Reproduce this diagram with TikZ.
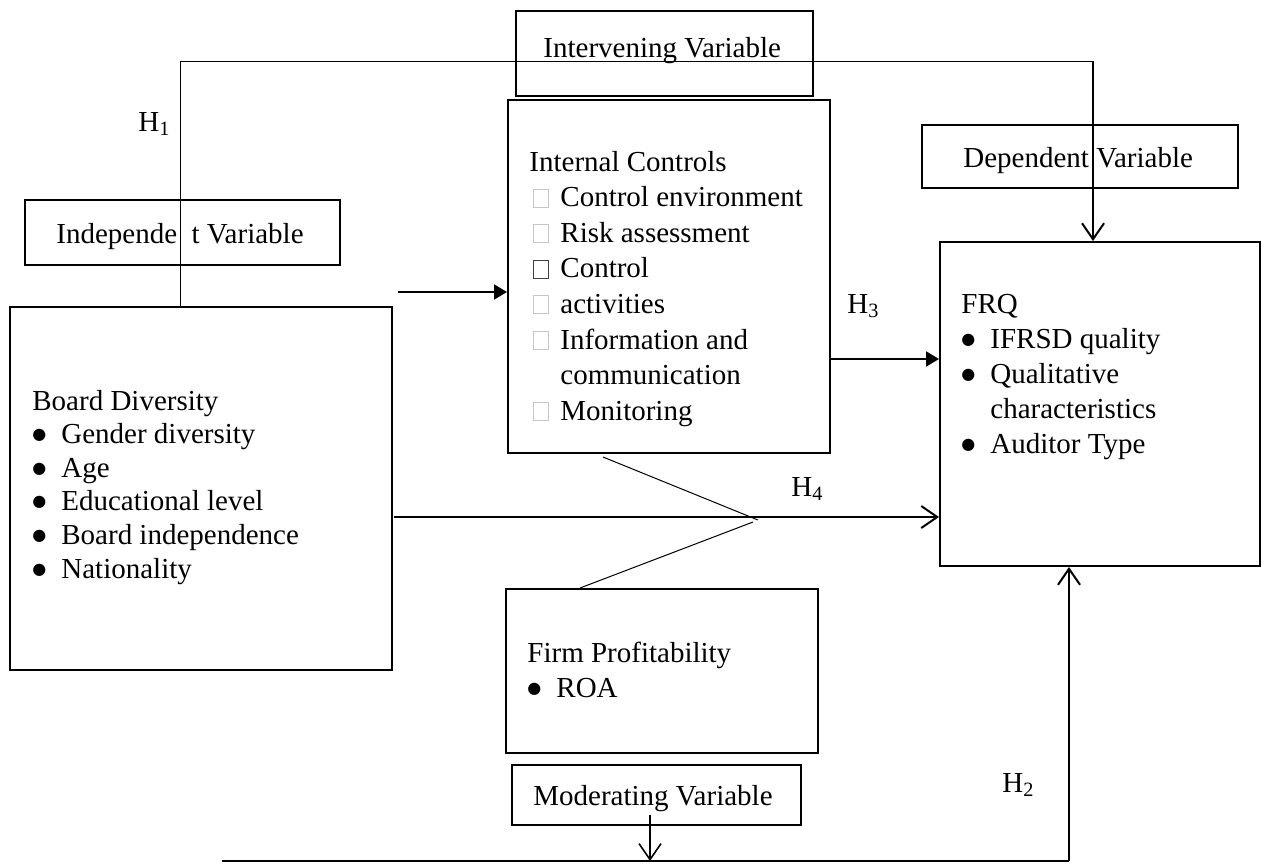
\documentclass[tikz,border=0pt]{standalone}
\usepackage{fontspec}
\setmainfont{Liberation Serif}
\newfontfamily\symfont{DejaVu Sans}
\usetikzlibrary{arrows.meta,fit}

\newcommand{\bul}{\makebox[14.5pt][l]{\raisebox{2pt}{\symfont\fontsize{8}{10}\selectfont ●}}}
\newcommand{\sqbox}[1]{\makebox[15.5pt][l]{\hspace{2pt}{\color{#1}\fboxsep=0pt\fboxrule=0.5pt\fbox{\rule{0pt}{8.5pt}\hspace{7pt}}}}}

\tikzset{
  box/.style={draw, line width=1pt, inner sep=0pt},
  txt/.style={anchor=base west, inner sep=0pt, font=\fontsize{14.5}{17.8}\selectfont},
  thinline/.style={line width=0.5pt},
  openarrow/.style={line width=1pt, -{Straight Barb[length=8pt,width=11pt]}},
  fillarrow/.style={line width=1pt, -{Triangle[length=6.5pt,width=7.5pt]}},
}

\begin{document}
\begin{tikzpicture}[x=0.5pt, y=-0.5pt, line cap=butt]
  \useasboundingbox (0,0) rectangle (1262,863);

  % boxes
  \node[box, fit={(25,200) (340,265)}] (ivbox) {};
  \node[box, fit={(10,307) (392,670)}] (bd) {};
  \node[box, line width=1.3pt, fit={(516,11) (813,96)}] (inbox) {};
  \node[box, fit={(508,100) (830,453)}] (ic) {};
  \node[box, fit={(922,125) (1238,188)}] (dvbox) {};
  \node[box, fit={(940,242) (1260,566)}] (frq) {};
  \node[box, fit={(506,589) (818,753)}] (fp) {};
  \node[box, fit={(512,765) (801,825)}] (mvbox) {};

  % box texts
  \node[txt] (ivlab) at (56,243) {Independe\phantom{n}t Variable};
  \node[txt] (inlab) at (543,57) {Intervening Variable};
  \node[txt] (dvlab) at (963,167) {Dependent Variable};
  \node[txt] (mvlab) at (533,805) {Moderating Variable};

  \node[txt, font=\fontsize{14.5}{16.8}\selectfont] (bdtxt) at (32,410) {%
    \begin{tabular}[t]{@{}l@{}}
      Board Diversity\\
      \bul Gender diversity\\
      \bul Age\\
      \bul Educational level\\
      \bul Board independence\\
      \bul Nationality
    \end{tabular}};

  \node[txt] (ictxt) at (529,171) {%
    \begin{tabular}[t]{@{}l@{}}
      Internal Controls\\
      \sqbox{gray!45}Control environment\\
      \sqbox{gray!45}Risk assessment\\
      \sqbox{black!75}Control\\
      \sqbox{gray!45}activities\\
      \sqbox{gray!45}Information and\\
      \hspace*{15.5pt}communication\\
      \sqbox{gray!45}Monitoring
    \end{tabular}};

  \node[txt, font=\fontsize{14.5}{17.5}\selectfont] (frqtxt) at (961,313) {%
    \begin{tabular}[t]{@{}l@{}}
      FRQ\\
      \bul IFRSD quality\\
      \bul Qualitative\\
      \hspace*{14.5pt}characteristics\\
      \bul Auditor Type
    \end{tabular}};

  \node[txt, font=\fontsize{14.5}{17.5}\selectfont] (fptxt) at (527,662) {%
    \begin{tabular}[t]{@{}l@{}}
      Firm Profitability\\
      \bul ROA
    \end{tabular}};

  % hypothesis labels
  \node[txt] (h1) at (138,131) {H\textsubscript{1}};
  \node[txt] (h3) at (847,313) {H\textsubscript{3}};
  \node[txt] (h4) at (791,496) {H\textsubscript{4}};
  \node[txt] (h2) at (1002,792) {H\textsubscript{2}};

  % coordinates
  \coordinate (tl) at (180,61);
  \coordinate (tr) at (1093,61);
  \coordinate (a1) at (398,292);
  \coordinate (a3) at (830,359);
  \coordinate (a4) at (394,517);
  \coordinate (z1) at (603,457);
  \coordinate (z2) at (758,520);
  \coordinate (z3) at (753,522);
  \coordinate (z4) at (580,589);
  \coordinate (mv) at (650,815);
  \coordinate (bl) at (222,861);
  \coordinate (br) at (1069,861);

  % H1 path over the top
  \draw[thinline] (tl |- bd.north) -- (tl) -- (tr);
  \draw[openarrow] (tr) -- (tr |- frq.north);

  % mediation arrows
  \draw[fillarrow] (a1) -- (a1 -| ic.west);
  \draw[fillarrow] (a3) -- (a3 -| frq.west);

  % direct path and moderator link
  \draw[openarrow] (a4) -- (a4 -| frq.west);
  \draw[thinline] (z1) -- (z2);
  \draw[thinline] (z3) -- (z4 |- fp.north);

  % H2 path along the bottom
  \draw[openarrow, line width=0.8pt] (mv) -- (mv |- bl);
  \draw[line width=0.8pt] (bl) -- (br);
  \draw[openarrow] (br) -- (br |- frq.south);
\end{tikzpicture}
\end{document}
